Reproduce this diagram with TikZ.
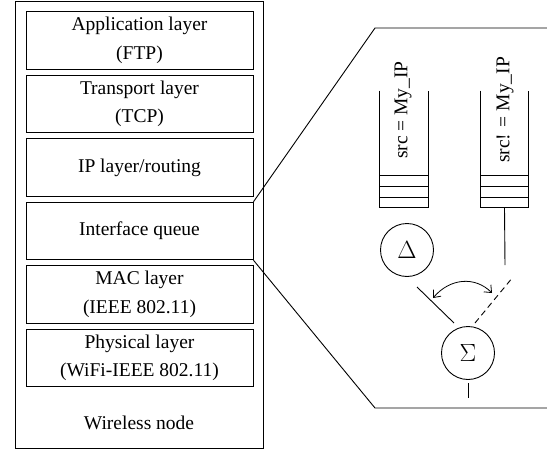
\documentclass[tikz,border=0pt]{standalone}
\usepackage{fontspec}
\setmainfont{Liberation Serif}
\usetikzlibrary{arrows.meta}
\begin{document}
\begin{tikzpicture}[x=1pt,y=-1pt,
  line width=0.9pt,
  txt/.style={font=\fontsize{19.5}{28.5}\selectfont, align=center},
  layerbox/.style={draw, txt, minimum width=227pt, minimum height=57.5pt, inner sep=0pt},
  opbox/.style={draw, circle, minimum size=53pt, inner sep=0pt},
  qlabel/.style={rotate=90, font=\fontsize{19.5}{20}\selectfont, inner sep=0pt},
  swing/.style={{Straight Barb[length=6pt,width=10pt]}-{Straight Barb[length=6pt,width=10pt]}, line width=0.8pt}]
\useasboundingbox (0,0) rectangle (547,458);

% protocol stack of the node
\node[draw, minimum width=248pt, minimum height=447pt, inner sep=0pt] (node) at (139,224.5) {};
\node[layerbox] (app)  at (139.5,40.5)  {Application layer\\(FTP)};
\node[layerbox] (tr)   at (139.5,104)   {Transport layer\\(TCP)};
\node[layerbox] (ip)   at (139.5,167.5) {IP layer/routing};
\node[layerbox] (ifq)  at (139.5,231)   {Interface queue};
\node[layerbox] (mac)  at (139.5,294.5) {MAC layer\\(IEEE 802.11)};
\node[layerbox] (phy)  at (139.5,358)   {Physical layer\\(WiFi-IEEE 802.11)};
\node[txt] (wl) at (139,423) {Wireless node};

% magnifier lines for the interface queue
\coordinate (zt) at (375,28);
\coordinate (zte) at (547,28);
\coordinate (zb) at (375,408);
\coordinate (zbe) at (547,408);
\draw (ifq.north east) -- (zt) -- (zte);
\draw (ifq.south east) -- (zb) -- (zbe);

% two queues
\foreach \q/\x in {qL/404, qR/504.5} {
  \node[minimum width=47.5pt, minimum height=116pt, inner sep=0pt] (\q) at (\x,149) {};
  \draw (\q.north west) -- (\q.south west) -- (\q.south east) -- (\q.north east);
  \draw ([yshift=32pt]\q.south west) -- ([yshift=32pt]\q.south east)
        ([yshift=21pt]\q.south west) -- ([yshift=21pt]\q.south east)
        ([yshift=10pt]\q.south west) -- ([yshift=10pt]\q.south east);
}
\node[qlabel] (lL) at (403,110) {src = My\_IP};
\node[qlabel] (lR) at (505,110) {src! = My\_IP};

% scheduler
\node[opbox, font=\fontsize{24}{24}\selectfont] (delta) at (407,250) {$\Delta$};
\node[opbox, font=\fontsize{25}{25}\selectfont] (sigma) at (468,353) {$\Sigma$};

\coordinate (qRend) at (505,265);
\draw (qR.south) -- (qRend);

\coordinate (sa) at (417,287);
\coordinate (sb) at (454,323);
\draw (sa) -- (sb);
\coordinate (da) at (475,323);
\coordinate (db) at (513,277);
\draw[dash pattern=on 6pt off 4pt] (da) -- (db);

\coordinate (sw1) at (433,298);
\coordinate (sw2) at (492,293);
\draw[swing] (sw1) .. controls (450,278) and (475,276) .. (sw2);

\coordinate (out) at (468,398);
\draw ([yshift=-3.5pt]sigma.south) -- (out);
\end{tikzpicture}
\end{document}
